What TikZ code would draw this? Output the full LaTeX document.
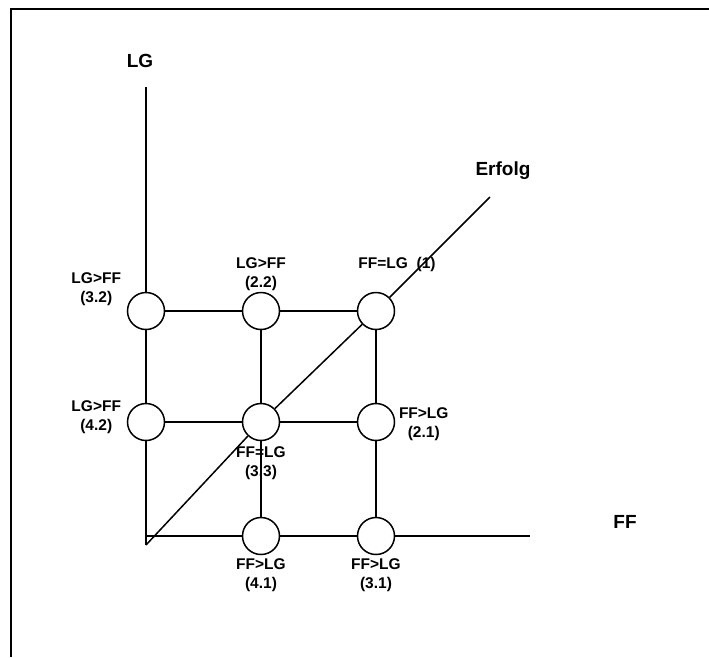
\documentclass[tikz,border=0pt]{standalone}
\usepackage{fontspec}
\setmainfont{Liberation Sans}
\usepackage{tikz}
\usetikzlibrary{positioning}

\begin{document}
\begin{tikzpicture}[x=1pt,y=-1pt,line width=1.5pt,
zust/.style={circle,draw,fill=white,minimum size=37pt,inner sep=0pt},
lbl/.style={font=\fontsize{15.5}{19}\bfseries\selectfont,align=center,inner sep=0pt},
achse/.style={font=\fontsize{19}{23}\bfseries\selectfont,inner sep=0pt}]
\useasboundingbox(0,0)rectangle(709,657);
\draw[line width=2.2pt](11,657)--(11,9)--(709,9);
% Achsen-Endpunkte
\coordinate(ytop)at(146,87);
\coordinate(o)at(146,545);
\coordinate(h0)at(146,536);
\coordinate(xend)at(530,536);
\coordinate(erf)at(490,197);
% Zustaende
\node[zust](c32)at(146,311){};
\node[zust](c22)at(261,311){};
\node[zust](c1)at(376,311){};
\node[zust](c42)at(146,422){};
\node[zust](c33)at(261,422){};
\node[zust](c21)at(376,422){};
\node[zust](c41)at(261,536){};
\node[zust](c31)at(376,536){};
% Linien
\draw(ytop)--(c32)--(c42)--(o);
\draw(h0)--(c41)--(c31)--(xend);
\draw(c32)--(c22)--(c1)
(c42)--(c33)--(c21);
\draw(c22)--(c33)--(c41)
(c1)--(c21)--(c31);
\draw(o)--(c33)--(c1)--(erf);
% Beschriftung
\node[achse](tlg)at(140,61){LG};
\node[achse,anchor=base](terf)at(503,175){Erfolg};
\node[achse,anchor=base](tff)at(625,528){FF};
\node[lbl,above=0pt of c22](l22){LG>FF\\(2.2)};
\node[lbl,above=19pt of c1,xshift=21pt](l1){FF=LG~~(1)};
\node[lbl,left=5pt of c32,yshift=22pt](l32){LG>FF\\(3.2)};
\node[lbl,left=5pt of c42,yshift=5pt](l42){LG>FF\\(4.2)};
\node[lbl,right=3pt of c21,yshift=-2pt](l21){FF>LG\\(2.1)};
\node[lbl,below=5pt of c33](l33){FF=LG\\(3.3)};
\node[lbl,below=3pt of c41](l41){FF>LG\\(4.1)};
\node[lbl,below=3pt of c31](l31){FF>LG\\(3.1)};
\end{tikzpicture}
\end{document}
